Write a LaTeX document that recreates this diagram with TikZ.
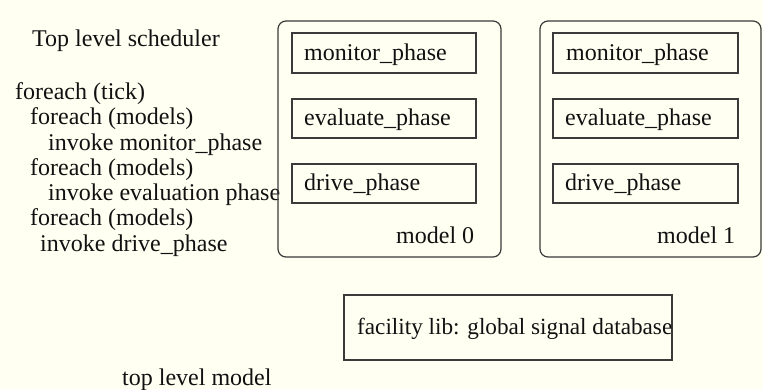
\documentclass[tikz,border=0pt]{standalone}
\usepackage{fontspec}
\setmainfont{Liberation Serif}
\definecolor{bgcream}{HTML}{FFFFF2}
\definecolor{linegray}{HTML}{3A3A3A}
\definecolor{textblack}{HTML}{111111}
\tikzset{
  txt/.style={anchor=base west, inner sep=0pt, text=textblack, font=\fontsize{24}{28}\selectfont},
  outerbox/.style={draw=linegray, line width=1.2pt, rounded corners=8pt},
  phasebox/.style={draw=linegray, line width=1.2pt},
}
\begin{document}
\begin{tikzpicture}[x=1pt,y=-1pt]
\fill[bgcream] (0,0) rectangle (763,389);
\useasboundingbox (0,0) rectangle (763,389);

% left text
\node[txt] (title) at (32,46) {Top level scheduler};
\node[txt] (l1) at (15,99) {foreach (tick)};
\node[txt] (l2) at (30,124) {foreach (models)};
\node[txt] (l3) at (48,150) {invoke monitor\_phase};
\node[txt] (l4) at (30,175) {foreach (models)};
\node[txt] (l5) at (48,200) {invoke evaluation phase};
\node[txt] (l6) at (30,225) {foreach (models)};
\node[txt] (l7) at (40,251) {invoke drive\_phase};
\node[txt] (tlm) at (122,385) {top level model};

% model 0
\draw[outerbox] (278,21) rectangle (501,257);
\draw[phasebox] (292,33) rectangle (476,73);
\draw[phasebox] (292,99) rectangle (476,138);
\draw[phasebox] (292,164) rectangle (476,203);
\node[txt] (t0a) at (304,60) {monitor\_phase};
\node[txt] (t0b) at (304,125) {evaluate\_phase};
\node[txt] (t0c) at (304,190) {drive\_phase};
\node[txt] (m0) at (396,243) {model 0};

% model 1
\draw[outerbox] (540,21) rectangle (761,257);
\draw[phasebox] (553,33) rectangle (738,73);
\draw[phasebox] (553,99) rectangle (738,138);
\draw[phasebox] (553,164) rectangle (738,203);
\node[txt] (t1a) at (566,60) {monitor\_phase};
\node[txt] (t1b) at (565,125) {evaluate\_phase};
\node[txt] (t1c) at (565,190) {drive\_phase};
\node[txt] (m1) at (657,243) {model 1};

% facility lib
\draw[phasebox] (344,295) rectangle (672,360);
\node[txt, font=\fontsize{23.2}{28}\selectfont] (fac) at (357,334) {facility lib: global signal database};
\end{tikzpicture}
\end{document}
